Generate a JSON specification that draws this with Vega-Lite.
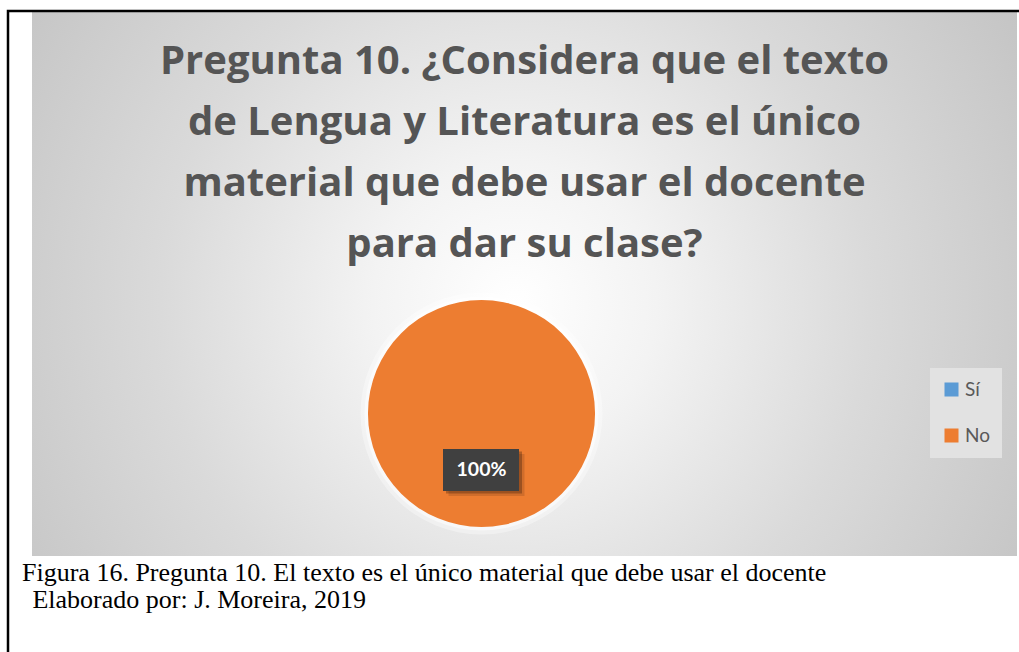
{
  "$schema": "https://vega.github.io/schema/vega-lite/v6.json",
  "width": 985,
  "height": 544,
  "autosize": {"type": "none"},
  "padding": {"left": 32, "top": 12, "right": 2, "bottom": 96},
  "background": "white",
  "config": {"view": {"stroke": null}},
  "title": {
    "text": ["Pregunta 10. ¿Considera que el texto", "de Lengua y Literatura es el único", "material que debe usar el docente", "para dar su clase?"],
    "font": "Open Sans",
    "fontSize": 40,
    "fontWeight": "bold",
    "color": "#555555",
    "lineHeight": 61,
    "anchor": "middle",
    "frame": "group",
    "offset": -255.5
  },
  "datasets": {
    "respuestas": [
      {"respuesta": "Sí", "porcentaje": 0},
      {"respuesta": "No", "porcentaje": 1}
    ],
    "pie_de_figura": [
      {"lineas": ["Figura 16. Pregunta 10. El texto es el único material que debe usar el docente", "\u200b\u2009\u2009Elaborado por: J. Moreira, 2019"]}
    ],
    "panel": [{"elemento": "fondo"}]
  },
  "layer": [
    {
      "data": {"name": "panel"},
      "mark": {
        "type": "rect",
        "fill": {
          "gradient": "radial",
          "x1": 0.49, "y1": 0.52, "r1": 0,
          "x2": 0.49, "y2": 0.52, "r2": 0.72,
          "stops": [
            {"offset": 0, "color": "#ffffff"},
            {"offset": 0.2, "color": "#f3f3f3"},
            {"offset": 0.5, "color": "#dadada"},
            {"offset": 0.8, "color": "#c6c6c6"},
            {"offset": 1, "color": "#bcbcbc"}
          ]
        },
        "stroke": null
      },
      "encoding": {}
    },
    {
      "data": {"name": "panel"},
      "mark": {"type": "rect", "x": -24, "x2": 1010, "y": -1, "y2": 700, "fill": null, "stroke": "black", "strokeWidth": 2.5},
      "encoding": {}
    },
    {
      "data": {"name": "respuestas"},
      "mark": {"type": "arc", "outerRadius": 121, "color": "white", "opacity": 0.35, "x": {"expr": "width*0.45635"}, "y": {"expr": "height*0.73805"}},
      "encoding": {
        "theta": {"field": "porcentaje", "type": "quantitative", "stack": true}
      }
    },
    {
      "data": {"name": "respuestas"},
      "mark": {"type": "arc", "outerRadius": 117, "color": "white", "opacity": 0.5, "x": {"expr": "width*0.45635"}, "y": {"expr": "height*0.73805"}},
      "encoding": {
        "theta": {"field": "porcentaje", "type": "quantitative", "stack": true}
      }
    },
    {
      "data": {"name": "respuestas"},
      "mark": {"type": "arc", "outerRadius": 113.5, "x": {"expr": "width*0.45635"}, "y": {"expr": "height*0.73805"}},
      "encoding": {
        "theta": {"field": "porcentaje", "type": "quantitative", "stack": true},
        "color": {
          "field": "respuesta",
          "type": "nominal",
          "sort": ["Sí", "No"],
          "scale": {"domain": ["Sí", "No"], "range": ["#5B9BD5", "#ED7D31"]},
          "legend": {
            "title": null,
            "orient": "none",
            "legendX": 898,
            "legendY": 356,
            "fillColor": "#e2e2e2",
            "padding": 12,
            "symbolType": "square",
            "symbolSize": 196,
            "symbolStrokeWidth": 0,
            "labelFont": "Lato",
            "labelFontSize": 19,
            "labelColor": "#595959",
            "labelOffset": 4,
            "rowPadding": 26
          }
        }
      }
    },
    {
      "data": {"name": "respuestas"},
      "transform": [{"filter": "datum.porcentaje > 0"}],
      "mark": {"type": "point", "filled": true, "shape": "M-1,-0.55L1,-0.55L1,0.55L-1,0.55Z", "size": 5776, "color": "black", "opacity": 0.12, "strokeWidth": 0, "x": {"expr": "width*0.45635"}, "y": {"expr": "height*0.73805"}, "xOffset": 5, "yOffset": 61.5},
      "encoding": {}
    },
    {
      "data": {"name": "respuestas"},
      "transform": [{"filter": "datum.porcentaje > 0"}],
      "mark": {"type": "point", "filled": true, "shape": "M-1,-0.55L1,-0.55L1,0.55L-1,0.55Z", "size": 5776, "color": "black", "opacity": 0.25, "strokeWidth": 0, "x": {"expr": "width*0.45635"}, "y": {"expr": "height*0.73805"}, "xOffset": 2.5, "yOffset": 59},
      "encoding": {}
    },
    {
      "data": {"name": "respuestas"},
      "transform": [{"filter": "datum.porcentaje > 0"}],
      "mark": {"type": "point", "filled": true, "shape": "M-1,-0.55L1,-0.55L1,0.55L-1,0.55Z", "size": 5776, "color": "#404040", "opacity": 1, "strokeWidth": 0, "x": {"expr": "width*0.45635"}, "y": {"expr": "height*0.73805"}, "xOffset": -0.5, "yOffset": 56.5},
      "encoding": {}
    },
    {
      "data": {"name": "respuestas"},
      "transform": [{"filter": "datum.porcentaje > 0"}],
      "mark": {"type": "text", "radius": 56.5, "font": "Lato", "fontSize": 19.5, "fontWeight": "bold", "color": "white", "align": "center", "baseline": "middle", "x": {"expr": "width*0.45635"}, "y": {"expr": "height*0.73805"}},
      "encoding": {
        "theta": {"field": "porcentaje", "type": "quantitative", "stack": true},
        "text": {"field": "porcentaje", "type": "quantitative", "format": ".0%"}
      }
    },
    {
      "data": {"name": "pie_de_figura"},
      "mark": {"type": "text", "font": "Liberation Serif", "fontSize": 26, "color": "black", "align": "left", "baseline": "alphabetic", "lineHeight": 27, "x": -10, "y": {"expr": "height+24.7"}},
      "encoding": {
        "text": {"field": "lineas", "type": "nominal"}
      }
    }
  ]
}
